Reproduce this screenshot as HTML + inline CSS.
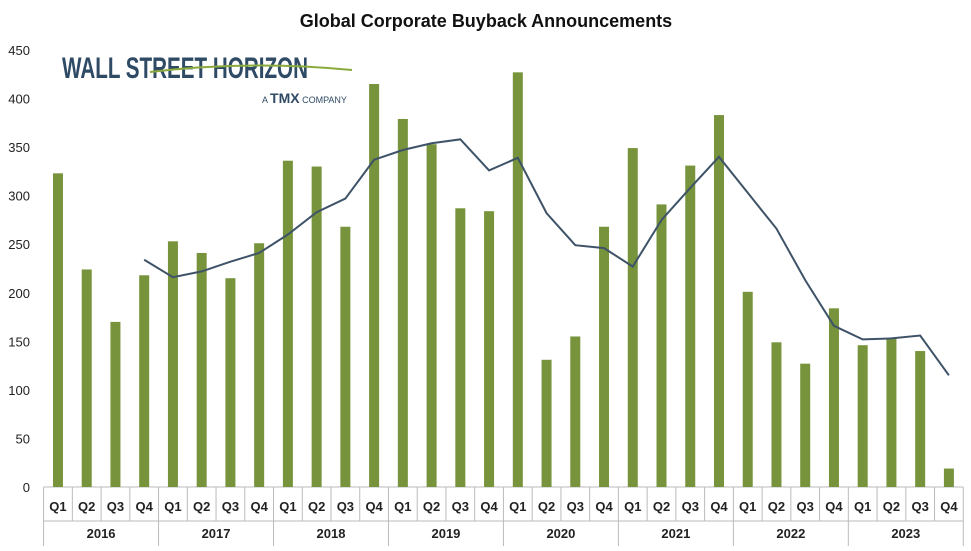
<!DOCTYPE html>
<html><head><meta charset="utf-8"><style>
body{margin:0;background:#fff;font-family:"Liberation Sans",sans-serif}
svg text{font-family:"Liberation Sans",sans-serif}
</style></head><body>
<svg id="chart" width="971" height="546">
<text x="486" y="27" text-anchor="middle" font-size="18" font-weight="bold" fill="#111">Global Corporate Buyback Announcements</text>
<g>
<text x="62" y="78" font-size="30" font-weight="bold" fill="#2F4A64" textLength="246" lengthAdjust="spacingAndGlyphs">WALL STREET HORIZON</text>
<path d="M150 72 Q250 60 352 70" stroke="#8BAA3C" stroke-width="2" fill="none"/>
<text x="262" y="103" font-size="9" fill="#2F4A64">A <tspan font-size="14" font-weight="bold">TMX</tspan> COMPANY</text>
</g>
<g id="axes"></g><g id="bars"></g><g id="line"></g>
</svg>
<script>
const quarters=["Q1","Q2","Q3","Q4"];
const years=["2016","2017","2018","2019","2020","2021","2022","2023"];
const buybacks=[323,224,170,218,253,241,215,251,336,330,268,415,379,353,287,284,427,131,155,268,349,291,331,383,201,149,127,184,146,153,140,19];
const movingAvg=[null,null,null,234,216,222,232,241,260,283,297,337,347,354,358,326,339,282,249,246,227,275,308,340,303,266,213,166,152,153,156,115];
const yTicks=[0,50,100,150,200,250,300,350,400,450];
const NS="http://www.w3.org/2000/svg";
const x0=43.6,slot=28.74,y0=487,ppu=437/450;
const X=i=>x0+slot*(i+0.5), Y=v=>y0-v*ppu;
function mk(t,a,p){const e=document.createElementNS(NS,t);for(const k in a)e.setAttribute(k,a[k]);p.appendChild(e);return e;}
const ax=document.getElementById('axes');
yTicks.forEach(t=>{const e=mk('text',{x:30,y:Y(t)+5,'text-anchor':'end','font-size':13,fill:'#222'},ax);e.textContent=t;

});
const n=buybacks.length, xEnd=x0+slot*n;
mk('line',{x1:x0,y1:y0,x2:xEnd,y2:y0,stroke:'#bbb'},ax);
mk('line',{x1:x0,y1:521,x2:xEnd,y2:521,stroke:'#bbb'},ax);
for(let i=0;i<=n;i++){const yb=(i%4===0)?546:521;mk('line',{x1:x0+slot*i,y1:y0,x2:x0+slot*i,y2:yb,stroke:'#bbb'},ax);}
buybacks.forEach((v,i)=>{const e=mk('text',{x:X(i),y:511,'text-anchor':'middle','font-size':13,'font-weight':'bold',fill:'#222'},ax);e.textContent=quarters[i%4];

});
years.forEach((yr,j)=>{const e=mk('text',{x:x0+slot*(j*4+2),y:538,'text-anchor':'middle','font-size':13,'font-weight':'bold',fill:'#222'},ax);e.textContent=yr;

});
const bg=document.getElementById('bars');
buybacks.forEach((v,i)=>{const r=mk('rect',{x:X(i)-5,y:Y(v),width:10,height:v*ppu,fill:'#77933C'},bg);

});
let d='';movingAvg.forEach((v,i)=>{if(v==null)return;d+=(d?'L':'M')+X(i)+' '+Y(v);});
const p=mk('path',{d:d,stroke:'#3E5368',"stroke-width":2,fill:'none'},document.getElementById('line'));


</script>
</body></html>
